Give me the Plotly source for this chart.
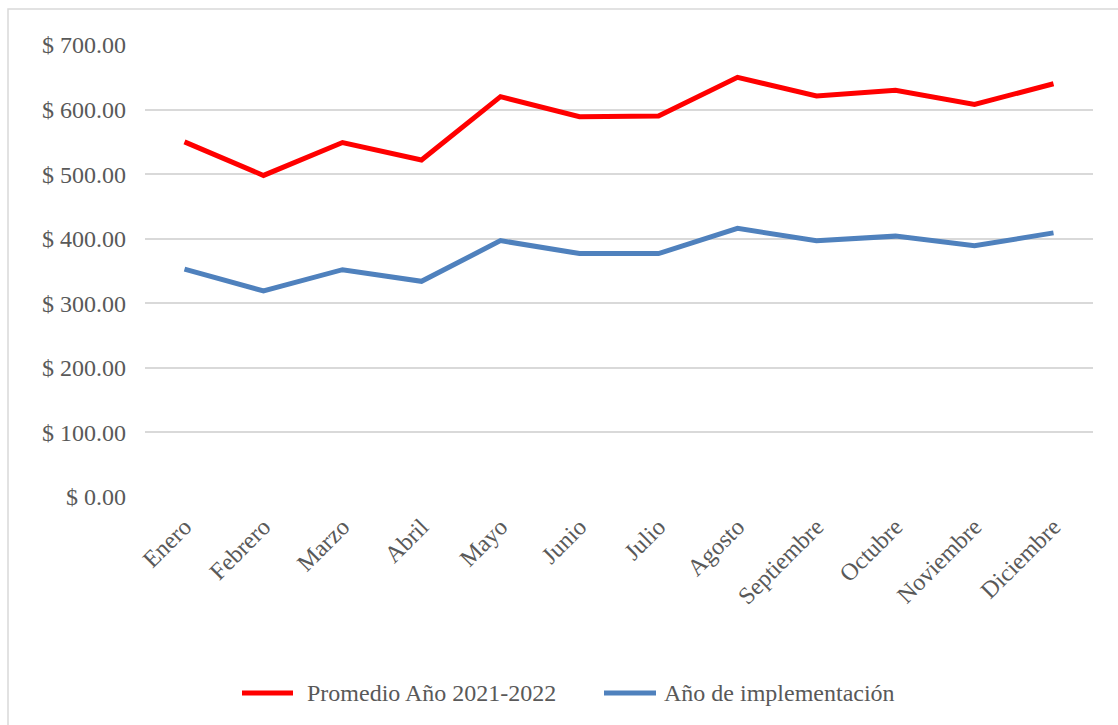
import plotly.graph_objects as go

meses = ["Enero", "Febrero", "Marzo", "Abril", "Mayo", "Junio", "Julio",
         "Agosto", "Septiembre", "Octubre", "Noviembre", "Diciembre"]
promedio_2021_2022 = [550, 498, 549, 522, 620, 589, 590, 650, 621, 630, 608, 640]
anio_implementacion = [353, 319, 352, 334, 397, 377, 377, 416, 397, 404, 389, 409]
y_ticks = [0, 100, 200, 300, 400, 500, 600, 700]
y_tick_text = ["$ %.2f" % v for v in y_ticks]

series = [
    ("Promedio Año 2021-2022", promedio_2021_2022, "#ff0000"),
    ("Año de implementación", anio_implementacion, "#4f81bd"),
]

FONT = "Liberation Serif, Times New Roman, serif"
TXT = "#595959"

L, R, T, B = 145, 25, 45, 228
W, H = 1118, 725
pw, ph = W - L - R, H - T - B

def px_x(v):
    return (v - L) / pw

def px_y(v):
    return (H - B - v) / ph

fig = go.Figure()
for name, vals, color in series:
    fig.add_trace(go.Scatter(
        x=meses, y=vals, mode="lines", name=name,
        line=dict(color=color, width=5, shape="linear"),
    ))

# outer chart frame
fig.add_shape(type="rect", xref="paper", yref="paper",
              x0=px_x(8), x1=px_x(1130), y0=px_y(9), y1=px_y(740),
              line=dict(color="#d9d9d9", width=1.5), layer="below")

# legend drawn below the plot: long line samples followed by the series names
legend_y = px_y(693)
legend_slots = [(242, 293, 305), (604, 656, 662)]
for (name, _, color), (lx0, lx1, tx) in zip(series, legend_slots):
    fig.add_shape(type="line", xref="paper", yref="paper",
                  x0=px_x(lx0), x1=px_x(lx1), y0=legend_y, y1=legend_y,
                  line=dict(color=color, width=5))
    fig.add_annotation(xref="paper", yref="paper", x=px_x(tx), y=legend_y,
                       xanchor="left", yanchor="middle", showarrow=False,
                       text=name, font=dict(family=FONT, size=24, color=TXT))

fig.update_layout(
    width=W, height=H,
    margin=dict(l=L, r=R, t=T, b=B),
    paper_bgcolor="white", plot_bgcolor="white",
    font=dict(family=FONT, color=TXT, size=22),
    showlegend=False,
    xaxis=dict(
        type="category", range=[-0.5, 11.5], showgrid=False, zeroline=False,
        showline=False, ticks="", tickangle=-45, ticklabelstandoff=10,
        tickfont=dict(family=FONT, size=24, color=TXT),
    ),
    yaxis=dict(
        range=[0, 700], tickvals=y_ticks, ticktext=y_tick_text,
        showgrid=True, gridcolor="#d9d9d9", gridwidth=1.5, zeroline=False,
        showline=False, ticks="", ticklen=0, ticklabelstandoff=18,
        tickfont=dict(family=FONT, size=24, color=TXT),
    ),
)

fig.write_html("out.html")
